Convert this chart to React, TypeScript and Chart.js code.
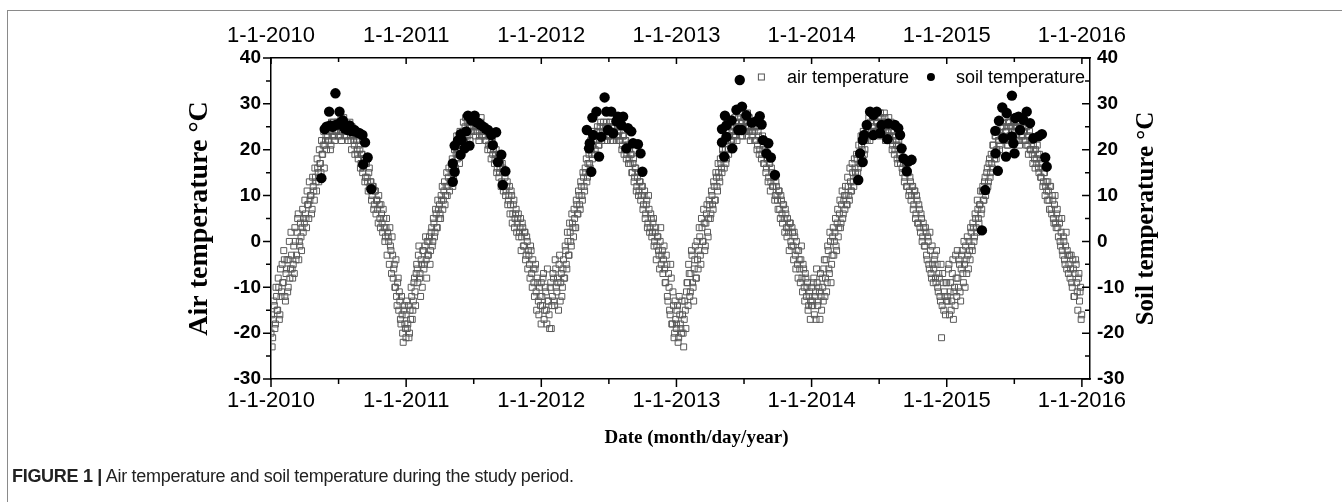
import React, { useEffect, useRef } from "react";
import { Chart, registerables } from "chart.js";

Chart.register(...registerables);

// ---------- data ----------
const xTickYears = [2010, 2011, 2012, 2013, 2014, 2015, 2016];
const xTickLabels = ["1-1-2010", "1-1-2011", "1-1-2012", "1-1-2013", "1-1-2014", "1-1-2015", "1-1-2016"];
const yTicks = [-30, -20, -10, 0, 10, 20, 30, 40];
const X_MIN = 2010;
const X_MAX = 2016.06;
const AIR_STEP_DAYS = 3; // each air series: one reading every 3 days
const AIR_OFFSET_A = 0; // first reading on 1 January
const AIR_OFFSET_B = 1.5; // second reading set, offset by 1.5 days

// air temperature (°C), set A (days 0, 3, 6, ...)
const air2010 = [
  -20, -23, -17, -14, -18, -12, -15, -10, -16, -12,
  -5, -9, -4, -13, -6, -11, -4, -8, 2, -6,
  -5, -7, 0, -3, 5, -4, -1, 1, 3, 2,
  4, 6, 3, 8, 5, 9, 10, 7, 12, 9,
  14, 11, 16, 13, 17, 15, 19, 21, 16, 22,
  20, 23, 22, 25, 21, 24, 26, 23, 25, 24,
  26, 25, 23, 27, 24, 25, 26, 24, 23, 25,
  24, 26, 22, 25, 23, 21, 24, 22, 19, 21,
  20, 17, 19, 16, 18, 14, 17, 13, 15, 12,
  13, 10, 12, 8, 11, 9, 7, 10, 5, 8,
  4, 7, 3, 1, 5, 2, 0, 3, -2, 1,
  -8, -5, -10, -12, -9, -15, -13, -18, -16, -22, -14, -19,
];
const air2011 = [
  -16, -19, -14, -20, -17, -12, -15, -9, -11, -7,
  -6, -3, -8, -12, -5, -2, -6, -1, -4, 0,
  -3, 1, -2, 3, 0, 4, 2, 6, 3, 7,
  8, 5, 9, 7, 11, 8, 12, 10, 14, 11,
  13, 16, 12, 17, 15, 19, 18, 21, 17, 22,
  21, 24, 22, 25, 23, 26, 24, 25, 27, 24,
  26, 25, 27, 24, 26, 25, 23, 26, 24, 25,
  23, 25, 22, 24, 21, 23, 20, 22, 19, 21,
  18, 20, 16, 19, 15, 17, 13, 16, 12, 14,
  11, 13, 9, 12, 8, 10, 6, 9, 5, 7,
  4, 6, 2, 5, 1, 3, -1, 2, -3, 0,
  -2, -5, -1, -7, -4, -9, -6, -11, -8, -13, -10, -14,
];
const air2012 = [
  -9, -14, -7, -15, -11, -18, -13, -16, -10, -19,
  -12, -8, -14, -6, -11, -9, -5, -13, -7, -10,
  -4, -8, -2, -6, 0, -3, 2, -1, 4, 1,
  5, 3, 8, 6, 10, 7, 12, 9, 14, 11,
  15, 13, 17, 19, 16, 20, 18, 22, 19, 23,
  22, 24, 21, 25, 23, 24, 26, 22, 25, 23,
  25, 23, 26, 24, 22, 25, 24, 26, 23, 25,
  24, 22, 25, 21, 23, 20, 22, 19, 21, 18,
  17, 19, 15, 18, 14, 16, 12, 15, 11, 13,
  10, 12, 8, 11, 6, 9, 4, 7, 3, 5,
  2, 5, 0, 3, -1, 1, -3, 0, -5, -2,
  -4, -6, -9, -5, -13, -10, -16, -8, -18, -14, -20, -17,
];
const air2013 = [
  -18, -14, -21, -16, -19, -13, -20, -17, -15, -11,
  -9, -5, -12, -7, -3, -10, -6, -1, -8, -4,
  -2, 1, -5, 3, 0, 4, -1, 6, 2, 5,
  8, 6, 10, 7, 12, 9, 14, 11, 15, 13,
  17, 15, 19, 16, 20, 18, 22, 19, 23, 21,
  24, 22, 25, 23, 26, 24, 27, 25, 23, 26,
  25, 27, 24, 26, 28, 25, 24, 26, 23, 25,
  24, 22, 25, 21, 23, 20, 22, 19, 21, 17,
  19, 16, 18, 14, 17, 13, 15, 12, 14, 10,
  12, 9, 11, 7, 10, 6, 8, 5, 7, 3,
  5, 2, 4, 0, 3, -1, 2, -3, 0, -5,
  -2, -6, -4, -8, -5, -10, -7, -12, -9, -14, -11, -13,
];
const air2014 = [
  -10, -14, -8, -12, -17, -9, -13, -11, -7, -15,
  -10, -6, -12, -4, -9, -2, -7, 0, -5, 1,
  -3, 2, -1, 4, 1, 6, 3, 8, 5, 9,
  7, 10, 8, 12, 9, 13, 11, 15, 12, 16,
  14, 18, 16, 19, 17, 21, 18, 22, 20, 23,
  22, 25, 23, 26, 24, 27, 25, 28, 24, 26,
  27, 25, 28, 24, 26, 25, 27, 23, 26, 24,
  25, 22, 24, 21, 23, 20, 22, 18, 21, 19,
  17, 20, 15, 18, 14, 16, 12, 15, 11, 13,
  10, 12, 8, 11, 6, 9, 4, 7, 2, 5,
  1, 3, -1, 2, -4, 0, -6, -2, -8, -5,
  -6, -3, -9, -5, -11, -8, -13, -21, -7, -15, -12, -9,
];
const air2015 = [
  -9, -13, -5, -11, -15, -7, -17, -10, -3, -12,
  -8, -4, -11, -6, -2, -9, -5, -1, -7, -3,
  0, -4, 2, -2, 3, 1, 5, 2, 7, 4,
  8, 6, 11, 9, 13, 10, 15, 12, 17, 14,
  19, 16, 21, 18, 23, 20, 24, 22, 21, 25,
  23, 26, 22, 24, 25, 21, 26, 23, 25, 24,
  26, 24, 25, 23, 26, 22, 25, 24, 23, 26,
  24, 22, 25, 21, 23, 20, 22, 19, 21, 18,
  20, 17, 19, 15, 18, 14, 16, 13, 15, 12,
  11, 13, 9, 12, 7, 10, 5, 8, 4, 6,
  3, 5, 0, 2, -2, 1, -4, -1, -6, -3,
  -5, -8, -3, -10, -6, -12, -4, -9, -15, -7, -11, -17,
];

// air temperature (°C), set B (days 1.5, 4.5, 7.5, ...)
const air2010b = [
  -16, -21, -13, -19, -10, -15, -8, -17, -6, -11,
  -9, -2, -12, -7, -4, -10, 0, -6, -3, -8,
  -1, 3, -4, 2, 6, 0, 4, -2, 7, 5,
  9, 5, 11, 8, 13, 10, 6, 14, 11, 16,
  13, 18, 15, 20, 17, 22, 19, 24, 21, 23,
  25, 22, 24, 20, 26, 23, 25, 22, 24, 26,
  23, 26, 24, 22, 25, 27, 23, 25, 24, 22,
  25, 23, 20, 24, 22, 19, 23, 20, 18, 22,
  16, 19, 15, 18, 13, 17, 14, 11, 16, 13,
  9, 12, 7, 11, 6, 9, 4, 8, 3, 6,
  2, 5, 0, 3, -3, 1, -5, -1, -7, -3,
  -6, -10, -4, -14, -8, -11, -17, -12, -20, -15, -18, -21,
];
const air2011b = [
  -13, -18, -21, -15, -10, -17, -13, -8, -14, -5,
  -9, -1, -7, -4, -10, -2, -5, 1, -8, -3,
  0, -5, 2, -1, 5, 1, 7, 3, 9, 5,
  6, 10, 12, 9, 13, 10, 15, 12, 16, 13,
  15, 18, 14, 20, 16, 23, 19, 21, 24, 20,
  23, 26, 22, 27, 24, 23, 26, 22, 25, 27,
  24, 27, 23, 25, 26, 22, 25, 27, 23, 24,
  25, 22, 24, 20, 23, 21, 18, 22, 20, 17,
  19, 15, 18, 14, 16, 12, 17, 11, 15, 10,
  12, 8, 10, 6, 11, 4, 8, 3, 6, 2,
  5, 1, 3, -2, 4, -1, 2, -4, 1, -6,
  -3, -8, -2, -10, -6, -12, -5, -15, -9, -16, -12, -18,
];
const air2012b = [
  -12, -8, -17, -10, -15, -6, -13, -19, -9, -14,
  -7, -13, -4, -10, -8, -15, -3, -9, -12, -6,
  -8, -1, -5, 2, -3, 4, 0, 6, 3, 7,
  3, 9, 6, 11, 8, 13, 10, 15, 12, 16,
  18, 14, 20, 17, 22, 19, 21, 24, 20, 22,
  25, 21, 23, 26, 22, 25, 23, 24, 26, 22,
  23, 26, 22, 25, 24, 23, 26, 22, 24, 23,
  22, 25, 20, 23, 19, 22, 18, 21, 17, 20,
  19, 15, 17, 13, 16, 11, 14, 10, 13, 9,
  12, 7, 10, 5, 8, 3, 10, 2, 6, 1,
  4, -1, 2, -4, 1, -2, -6, 3, -3, -7,
  -1, -9, -3, -12, -7, -15, -5, -18, -11, -21, -13, -19,
];
const air2013b = [
  -15, -22, -12, -18, -20, -16, -23, -13, -19, -9,
  -14, -7, -11, -2, -9, -13, -4, -8, 0, -6,
  3, -3, 5, 0, 7, -2, 4, 8, 1, 9,
  5, 11, 8, 13, 9, 15, 12, 17, 14, 18,
  16, 20, 18, 22, 17, 24, 20, 23, 25, 22,
  26, 23, 27, 24, 22, 25, 28, 24, 26, 23,
  27, 24, 26, 23, 25, 27, 22, 25, 24, 26,
  22, 25, 20, 24, 19, 22, 18, 23, 17, 20,
  15, 18, 13, 17, 11, 16, 12, 14, 9, 13,
  10, 7, 11, 5, 9, 4, 8, 2, 6, 1,
  3, -2, 4, -1, 2, -4, 1, -6, -2, -8,
  -4, -9, -1, -11, -6, -13, -8, -10, -15, -12, -17, -14,
];
const air2014b = [
  -13, -9, -16, -11, -6, -14, -10, -17, -12, -8,
  -13, -4, -8, -11, -1, -6, 2, -9, -3, 3,
  0, 5, -2, 7, 3, 9, 4, 11, 6, 10,
  12, 8, 14, 10, 16, 11, 17, 13, 18, 15,
  19, 15, 21, 17, 23, 20, 24, 19, 22, 25,
  24, 27, 22, 28, 25, 23, 27, 24, 26, 28,
  25, 23, 27, 26, 24, 28, 22, 25, 23, 27,
  23, 26, 20, 24, 19, 23, 21, 17, 22, 18,
  20, 16, 18, 13, 17, 12, 15, 10, 14, 9,
  12, 7, 11, 5, 10, 4, 8, 3, 6, 0,
  4, -1, 3, -3, 1, -5, 2, -7, -1, -9,
  -4, -8, -2, -10, -7, -12, -5, -14, -9, -11, -16, -13,
];
const air2015b = [
  -12, -6, -16, -9, -13, -4, -11, -14, -8, -2,
  -10, -5, -13, -3, -7, 0, -10, -4, 1, -6,
  -2, 3, -1, 4, 0, 6, 3, 9, 5, 8,
  11, 7, 12, 9, 14, 11, 16, 13, 18, 15,
  17, 21, 19, 23, 18, 24, 22, 20, 26, 23,
  25, 22, 27, 24, 21, 26, 23, 25, 22, 27,
  23, 25, 22, 26, 24, 21, 27, 23, 25, 22,
  25, 21, 23, 19, 24, 20, 22, 17, 20, 16,
  18, 21, 16, 19, 14, 17, 12, 15, 10, 13,
  9, 11, 7, 12, 6, 9, 4, 10, 3, 7,
  1, 4, -1, 5, -3, 0, -5, 2, -2, -7,
  -3, -6, -9, -4, -12, -7, -5, -11, -8, -13, -10, -16,
];
const airYears = [2010, 2011, 2012, 2013, 2014, 2015];
const airSeriesA = [air2010, air2011, air2012, air2013, air2014, air2015];
const airSeriesB = [air2010b, air2011b, air2012b, air2013b, air2014b, air2015b];

// soil temperature (°C): day of year and value
const soilDays2010 = [136, 145, 150, 157, 160, 166, 171, 174, 180, 185, 189, 194, 199, 203, 208, 212, 218, 225, 232, 239, 247, 249, 254, 261, 271];
const soil2010 = [13.8, 24.5, 25, 28.3, 25.3, 25, 25.3, 32.3, 25.5, 28.3, 26, 26.4, 24.6, 25, 24.3, 25.3, 24, 24.3, 23.8, 23.6, 23.2, 16.8, 21.6, 18.3, 11.4];
const soilDays2011 = [126, 126, 131, 131, 140, 147, 147, 150, 158, 162, 167, 171, 176, 180, 185, 190, 194, 200, 207, 214, 221, 230, 234, 243, 248, 257, 261, 268];
const soil2011 = [13, 17, 15.2, 20.9, 22, 23.4, 18.9, 22.1, 20.3, 24, 27.4, 20.9, 26.4, 27, 27.4, 26, 25.9, 25.5, 25.1, 24.6, 24.3, 23.2, 21, 23.8, 17.3, 18.9, 12.3, 15.3];
const soilDays2012 = [123, 129, 131, 135, 138, 140, 149, 156, 162, 171, 176, 180, 189, 194, 203, 207, 216, 221, 230, 234, 243, 248, 261, 268, 273];
const soil2012 = [24.3, 20.3, 21.4, 15.2, 27, 23.2, 28.3, 18.5, 22.8, 31.4, 28.3, 24.3, 28.3, 23.6, 26.2, 27.2, 25.4, 27.2, 20.3, 24.7, 24, 21.4, 21.2, 19.2, 15.2];
const soilDays2013 = [123, 123, 129, 131, 135, 135, 149, 151, 162, 167, 171, 176, 177, 189, 203, 216, 225, 230, 234, 243, 248, 255, 266];
const soil2013 = [24.5, 21.6, 18.5, 27.4, 25.3, 22.8, 26.4, 20.3, 28.7, 24.3, 35.2, 24.3, 29.4, 27.5, 25.9, 26.2, 27.3, 25.5, 22.1, 19.2, 21.4, 18.3, 14.5];
const soilDays2014 = [126, 131, 138, 138, 142, 149, 158, 167, 167, 176, 185, 189, 205, 207, 225, 234, 239, 243, 248, 257, 261, 270];
const soil2014 = [13.4, 19.2, 22.1, 17.3, 23.2, 25.4, 28.3, 27.6, 23.2, 28.3, 23.6, 25.4, 22.3, 25.7, 25.4, 24.7, 23.2, 20.3, 18.1, 15.3, 17.4, 17.8];
const soilDays2015 = [95, 104, 131, 132, 138, 141, 150, 153, 160, 162, 176, 176, 180, 183, 185, 194, 198, 207, 216, 225, 234, 248, 257, 266, 270];
const soil2015 = [2.4, 11.2, 24.1, 19.2, 15.4, 26.3, 29.2, 22.5, 18.5, 28, 31.8, 22.9, 21.4, 19.2, 26.9, 27.2, 24.3, 26.5, 28.3, 25.8, 22.5, 22.9, 23.4, 18.3, 16.3];
const soilYears = [2010, 2011, 2012, 2013, 2014, 2015];
const soilDaySeries = [soilDays2010, soilDays2011, soilDays2012, soilDays2013, soilDays2014, soilDays2015];
const soilSeries = [soil2010, soil2011, soil2012, soil2013, soil2014, soil2015];

const AIR_LABEL = "air temperature";
const SOIL_LABEL = "soil temperature";
const Y_LEFT_TITLE = "Air temperature °C";
const Y_RIGHT_TITLE = "Soil temperature °C";
const X_TITLE = "Date (month/day/year)";

// ---------- helpers ----------
const toAirPoints = (series: number[][], offset: number) =>
  airYears.flatMap((yr, k) =>
    series[k].map((v, i) => ({ x: yr + (i * AIR_STEP_DAYS + offset) / 365, y: v }))
  );
const airData = [...toAirPoints(airSeriesA, AIR_OFFSET_A), ...toAirPoints(airSeriesB, AIR_OFFSET_B)];
const soilData = soilYears.flatMap((yr, k) =>
  soilSeries[k].map((v, i) => ({ x: yr + soilDaySeries[k][i] / 365, y: v }))
);

const labelForYear = (v: number) => {
  const idx = xTickYears.indexOf(Math.round(v));
  return idx >= 0 ? xTickLabels[idx] : "";
};

const SANS = "'Liberation Sans', Arial, sans-serif";
const SERIF = "'Liberation Serif', 'Times New Roman', serif";

const decorPlugin = {
  id: "decor",
  afterDraw(chart: any) {
    const { ctx, chartArea } = chart;
    const { left, right, top, bottom } = chartArea;
    const xs = chart.scales.x;
    const ys = chart.scales.y;
    ctx.save();
    ctx.strokeStyle = "#000";
    ctx.lineWidth = 1.5;
    ctx.beginPath();
    for (const yr of xTickYears) {
      const px = xs.getPixelForValue(yr);
      ctx.moveTo(px, bottom);
      ctx.lineTo(px, bottom + 8);
      ctx.moveTo(px, top);
      ctx.lineTo(px, top + 6);
      const mid = yr + 0.5;
      if (mid < X_MAX) {
        const pm = xs.getPixelForValue(mid);
        ctx.moveTo(pm, bottom);
        ctx.lineTo(pm, bottom + 5);
        ctx.moveTo(pm, top);
        ctx.lineTo(pm, top + 4);
      }
    }
    for (let v = -30; v <= 40; v += 5) {
      const py = ys.getPixelForValue(v);
      const major = v % 10 === 0;
      ctx.moveTo(left - (major ? 8 : 5), py);
      ctx.lineTo(left, py);
      ctx.moveTo(right - (major ? 8 : 5), py);
      ctx.lineTo(right, py);
    }
    ctx.stroke();

    // legend
    ctx.font = `18px ${SANS}`;
    ctx.fillStyle = "#000";
    ctx.textBaseline = "alphabetic";
    ctx.textAlign = "left";
    const baseY = top + 25;
    const soilW = ctx.measureText(SOIL_LABEL).width;
    const airW = ctx.measureText(AIR_LABEL).width;
    const soilX = right - 5 - soilW;
    const dotX = soilX - 25;
    const airX = dotX - 22 - airW;
    const sqX = airX - 25.5;
    ctx.fillText(SOIL_LABEL, soilX, baseY);
    ctx.fillText(AIR_LABEL, airX, baseY);
    ctx.beginPath();
    ctx.arc(dotX, baseY - 6, 4, 0, Math.PI * 2);
    ctx.fill();
    ctx.lineWidth = 1;
    ctx.strokeStyle = "#555";
    ctx.strokeRect(sqX - 3, baseY - 9, 6, 6);

    // axis titles
    ctx.fillStyle = "#000";
    ctx.textAlign = "center";
    const cy = (top + bottom) / 2;
    ctx.font = `bold 28px ${SERIF}`;
    ctx.save();
    ctx.translate(left - 64, cy);
    ctx.rotate(-Math.PI / 2);
    ctx.fillText(Y_LEFT_TITLE, 0, 0);
    ctx.restore();
    ctx.font = `bold 25px ${SERIF}`;
    ctx.save();
    ctx.translate(right + 63, cy);
    ctx.rotate(-Math.PI / 2);
    ctx.fillText(Y_RIGHT_TITLE, 0, 0);
    ctx.restore();
    ctx.font = `bold 19px ${SERIF}`;
    ctx.fillText(X_TITLE, (left + right) / 2 + 16, bottom + 64);
    ctx.restore();
  },
};

export default function App() {
  const canvasRef = useRef<HTMLCanvasElement | null>(null);

  useEffect(() => {
    if (!canvasRef.current) return;
    const commonX = {
      type: "linear" as const,
      min: X_MIN,
      max: X_MAX,
      grid: { display: false, drawTicks: false, tickLength: 0 },
      border: { display: true, color: "#000", width: 1.5 },
      afterBuildTicks: (s: any) => {
        s.ticks = xTickYears.map((v) => ({ value: v }));
      },
    };
    const commonY = {
      type: "linear" as const,
      min: -30,
      max: 40,
      grid: { display: false, drawTicks: false, tickLength: 0 },
      border: { display: true, color: "#000", width: 1.5 },
      afterBuildTicks: (s: any) => {
        s.ticks = yTicks.map((v) => ({ value: v }));
      },
    };
    const xTickFont = { family: SANS, size: 22 };
    const yTickFont = { family: SANS, size: 19, weight: "bold" };
    const chart = new Chart(canvasRef.current, {
      type: "scatter",
      data: {
        datasets: [
          {
            label: SOIL_LABEL,
            data: soilData,
            xAxisID: "x",
            yAxisID: "y2",
            pointStyle: "circle",
            pointRadius: 5.2,
            backgroundColor: "#000",
            borderColor: "#000",
            borderWidth: 0,
            order: 0,
          },
          {
            label: AIR_LABEL,
            data: airData,
            xAxisID: "x",
            yAxisID: "y",
            pointStyle: "rect",
            pointRadius: 4.2,
            backgroundColor: "rgba(0,0,0,0)",
            borderColor: "#5a5a5a",
            borderWidth: 1,
            order: 1,
          },
        ],
      },
      options: {
        animation: false,
        responsive: false,
        maintainAspectRatio: false,
        layout: { padding: 0 },
        plugins: { legend: { display: false }, tooltip: { enabled: false } },
        scales: {
          x: {
            ...commonX,
            position: "bottom",
            afterFit: (s: any) => {
              s.height = 123;
            },
            ticks: {
              callback: (v: any) => labelForYear(Number(v)),
              font: xTickFont,
              color: "#000",
              padding: 9,
              maxRotation: 0,
              autoSkip: false,
            },
          },
          x2: {
            ...commonX,
            position: "top",
            afterFit: (s: any) => {
              s.height = 58;
            },
            ticks: {
              callback: (v: any) => labelForYear(Number(v)),
              font: xTickFont,
              color: "#000",
              padding: 9,
              maxRotation: 0,
              autoSkip: false,
            },
          },
          y: {
            ...commonY,
            position: "left",
            afterFit: (s: any) => {
              s.width = 271;
            },
            ticks: { font: yTickFont, color: "#000", padding: 10 },
          },
          y2: {
            ...commonY,
            position: "right",
            afterFit: (s: any) => {
              s.width = 252;
            },
            ticks: { font: yTickFont, color: "#000", padding: 7 },
          },
        },
      } as any,
      plugins: [decorPlugin],
    });
    return () => chart.destroy();
  }, []);

  return (
    <div
      style={{
        position: "absolute",
        left: 0,
        top: 0,
        width: 1342,
        height: 502,
        overflow: "hidden",
        background: "#fff",
      }}
    >
      <div
        style={{
          position: "absolute",
          left: 7,
          top: 10,
          width: 1400,
          height: 600,
          borderTop: "1.5px solid #8a8a8a",
          borderLeft: "1.5px solid #8a8a8a",
        }}
      />
      <canvas
        ref={canvasRef}
        width={1342}
        height={502}
        style={{ position: "absolute", left: 0, top: 0, width: 1342, height: 502 }}
      />
      <div
        style={{
          position: "absolute",
          left: 12,
          top: 466,
          fontFamily: "'Liberation Sans Narrow', 'Arial Narrow', sans-serif",
          fontSize: 18,
          letterSpacing: -0.3,
          color: "#222",
          whiteSpace: "nowrap",
        }}
      >
        <b>FIGURE 1 |</b> Air temperature and soil temperature during the study period.
      </div>
    </div>
  );
}
